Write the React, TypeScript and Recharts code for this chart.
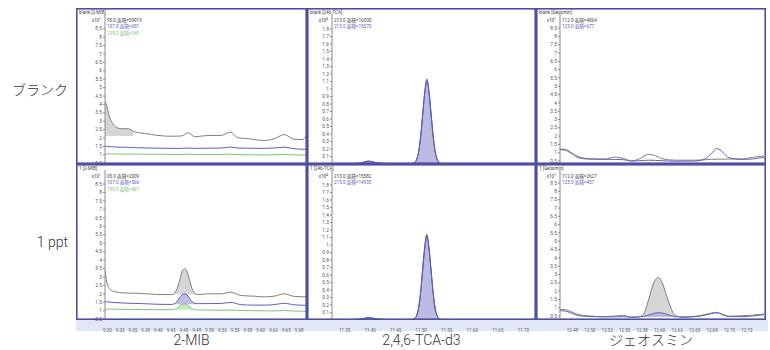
import React from 'react';
import { ComposedChart, Line, Area, XAxis, YAxis } from 'recharts';

// ---------- labels ----------
const rowLabels = ['ブランク', '1 ppt'];
const compoundLabels = ['2-MIB', '2,4,6-TCA-d3', 'ジェオスミン'];
const mibTitles = ['blank [2-MIB]', '1 [2-MIB]'];
const tcaTitles = ['blank [246-TCA]', '1 [246-TCA]'];
const geoTitles = ['blank [Geosmin]', '1 [Geosmin]'];
const mibLegendBlank = ['95.0 面積=59019', '107.0 面積=651', '135.0 面積=340'];
const mibLegend1ppt = ['95.0 面積=2009', '107.0 面積=566', '135.0 面積=461'];
const tcaLegendBlank = ['213.0 面積=16000', '215.0 面積=15570'];
const tcaLegend1ppt = ['213.0 面積=15582', '215.0 面積=14935'];
const geoLegendBlank = ['112.0 面積=4064', '125.0 面積=677'];
const geoLegend1ppt = ['112.0 面積=2627', '125.0 面積=457'];
const mibExp = '1';
const tcaExp = '4';
const geoExp = '1';

// ---------- axes ----------
const mibXTicks = [9.3, 9.325, 9.35, 9.375, 9.4, 9.425, 9.45, 9.475, 9.5, 9.525, 9.55, 9.575, 9.6, 9.625, 9.65, 9.675];
const mibXLabels = ['9.30', '9.33', '9.35', '9.38', '9.40', '9.43', '9.45', '9.48', '9.50', '9.53', '9.55', '9.58', '9.60', '9.63', '9.65', '9.68'];
const tcaXTicks = [11.35, 11.4, 11.45, 11.5, 11.55, 11.6, 11.65, 11.7];
const tcaXLabels = ['11.35', '11.40', '11.45', '11.50', '11.55', '11.60', '11.65', '11.70'];
const geoXTicks = [12.475, 12.5, 12.525, 12.55, 12.575, 12.6, 12.625, 12.65, 12.675, 12.7, 12.725];
const geoXLabels = ['12.48', '12.50', '12.53', '12.55', '12.58', '12.60', '12.63', '12.65', '12.68', '12.70', '12.73'];
const mibXDomain: [number, number] = [9.2955, 9.6885];
const tcaXDomain: [number, number] = [11.3252, 11.7229];
const geoXDomain: [number, number] = [12.4573, 12.7494];
const halfYTicks = [0.5, 1, 1.5, 2, 2.5, 3, 3.5, 4, 4.5, 5, 5.5, 6, 6.5, 7, 7.5, 8, 8.5];
const tenthYTicks = [0.1, 0.2, 0.3, 0.4, 0.5, 0.6, 0.7, 0.8, 0.9, 1, 1.1, 1.2, 1.3, 1.4, 1.5, 1.6, 1.7, 1.8];

// ---------- 2-MIB ----------
const mibBlankTimes = [9.2955, 9.299, 9.302, 9.307, 9.312, 9.318, 9.328, 9.341, 9.351, 9.357, 9.373, 9.399, 9.425, 9.445, 9.458, 9.471, 9.497, 9.522, 9.541, 9.555, 9.574, 9.607, 9.626, 9.646, 9.665, 9.681, 9.6885];
const mibBlank95 = [4.2, 3.9, 3.5, 3.05, 2.8, 2.62, 2.55, 2.55, 2.4, 2.33, 2.27, 2.15, 2.1, 2.12, 2.3, 2.07, 2.15, 2.15, 2.35, 2.02, 1.96, 1.85, 1.95, 2.2, 1.92, 1.9, 2.1];
const mibBlank107 = [1.52, 1.5, 1.49, 1.48, 1.47, 1.46, 1.45, 1.44, 1.43, 1.42, 1.41, 1.39, 1.38, 1.38, 1.4, 1.38, 1.39, 1.4, 1.46, 1.4, 1.39, 1.38, 1.4, 1.45, 1.36, 1.33, 1.33];
const mibBlank135 = [1.06, 1.06, 1.05, 1.05, 1.05, 1.05, 1.04, 1.04, 1.04, 1.04, 1.03, 1.03, 1.02, 1.02, 1.03, 1.02, 1.02, 1.02, 1.04, 1.01, 1.0, 0.99, 1.0, 1.02, 0.99, 0.98, 0.98];
const mibBlankPeak = { from: 9.2955, to: 9.351, base: 2.12 };

const mib1pptTimes = [9.2955, 9.299, 9.305, 9.315, 9.334, 9.367, 9.399, 9.425, 9.428, 9.435, 9.441, 9.446, 9.451, 9.456, 9.461, 9.467, 9.474, 9.48, 9.497, 9.522, 9.542, 9.561, 9.587, 9.607, 9.626, 9.646, 9.665, 9.6885];
const mib1ppt95 = [3.42, 2.7, 2.28, 2.12, 2.05, 2.02, 1.96, 1.95, 1.97, 2.2, 2.75, 3.3, 3.5, 3.3, 2.8, 2.2, 1.98, 1.96, 2.0, 2.0, 2.1, 1.9, 1.86, 1.82, 1.86, 2.0, 1.85, 1.82];
const mib1ppt107 = [1.55, 1.53, 1.51, 1.48, 1.45, 1.42, 1.38, 1.37, 1.38, 1.5, 1.75, 1.93, 2.0, 1.93, 1.72, 1.5, 1.42, 1.42, 1.42, 1.43, 1.49, 1.36, 1.33, 1.33, 1.36, 1.44, 1.35, 1.32];
const mib1ppt135 = [1.1, 1.1, 1.09, 1.09, 1.08, 1.07, 1.06, 1.06, 1.06, 1.12, 1.28, 1.38, 1.41, 1.37, 1.25, 1.1, 1.05, 1.04, 1.04, 1.03, 1.04, 1.01, 1.0, 0.99, 0.99, 1.01, 0.98, 0.97];
const mib1pptPeak = { from: 9.428, to: 9.474 };
const mib1pptBases = [1.96, 1.38, 1.05];

// ---------- 2,4,6-TCA-d3 ----------
const tcaTimes = [11.3252, 11.36, 11.377, 11.39, 11.397, 11.405, 11.42, 11.45, 11.48, 11.487, 11.491, 11.495, 11.499, 11.503, 11.507, 11.511, 11.515, 11.519, 11.523, 11.527, 11.531, 11.535, 11.54, 11.56, 11.6, 11.65, 11.7, 11.7229];
const tcaBlank213 = [0.005, 0.005, 0.01, 0.03, 0.04, 0.03, 0.01, 0.005, 0.005, 0.02, 0.06, 0.17, 0.38, 0.68, 0.97, 1.13, 0.98, 0.7, 0.4, 0.18, 0.07, 0.02, 0.005, 0.005, 0.005, 0.005, 0.005, 0.005];
const tcaBlank215 = [0.005, 0.005, 0.01, 0.025, 0.035, 0.025, 0.01, 0.005, 0.005, 0.02, 0.06, 0.16, 0.37, 0.66, 0.95, 1.1, 0.96, 0.68, 0.39, 0.17, 0.06, 0.02, 0.005, 0.005, 0.005, 0.005, 0.005, 0.005];
const tca1ppt213 = [0.005, 0.005, 0.01, 0.025, 0.035, 0.025, 0.01, 0.005, 0.005, 0.02, 0.06, 0.17, 0.39, 0.7, 0.99, 1.14, 0.98, 0.69, 0.39, 0.17, 0.06, 0.02, 0.005, 0.005, 0.005, 0.005, 0.005, 0.005];
const tca1ppt215 = [0.005, 0.005, 0.01, 0.02, 0.03, 0.02, 0.01, 0.005, 0.005, 0.02, 0.06, 0.16, 0.37, 0.67, 0.96, 1.11, 0.96, 0.67, 0.38, 0.16, 0.06, 0.02, 0.005, 0.005, 0.005, 0.005, 0.005, 0.005];

// ---------- Geosmin ----------
const geoBlankTimes = [12.4573, 12.465, 12.472, 12.484, 12.498, 12.522, 12.536, 12.548, 12.56, 12.572, 12.584, 12.594, 12.603, 12.623, 12.651, 12.666, 12.674, 12.682, 12.691, 12.699, 12.718, 12.733, 12.738, 12.7494];
const geoBlank112 = [1.22, 1.2, 1.05, 0.68, 0.62, 0.62, 0.74, 0.66, 0.5, 0.65, 0.9, 0.82, 0.64, 0.55, 0.55, 0.58, 0.6, 0.61, 0.61, 0.62, 0.62, 0.72, 0.75, 0.8];
const geoBlank125 = [1.18, 1.15, 1.0, 0.76, 0.63, 0.6, 0.6, 0.58, 0.5, 0.52, 0.55, 0.54, 0.52, 0.49, 0.5, 0.65, 0.95, 1.25, 1.0, 0.7, 0.6, 0.62, 0.65, 0.72];

const geo1pptTimes = [12.4573, 12.465, 12.472, 12.484, 12.498, 12.522, 12.536, 12.548, 12.56, 12.57, 12.577, 12.584, 12.591, 12.598, 12.603, 12.6105, 12.616, 12.62, 12.625, 12.632, 12.651, 12.666, 12.675, 12.682, 12.69, 12.699, 12.718, 12.733, 12.7494];
const geo1ppt112 = [0.9, 0.88, 0.78, 0.58, 0.5, 0.46, 0.5, 0.54, 0.44, 0.45, 0.62, 1.45, 2.45, 2.82, 2.56, 1.65, 1.0, 0.64, 0.5, 0.45, 0.48, 0.6, 0.68, 0.72, 0.58, 0.48, 0.52, 0.55, 0.62];
const geo1ppt125 = [0.82, 0.8, 0.7, 0.52, 0.48, 0.45, 0.45, 0.46, 0.42, 0.44, 0.48, 0.56, 0.65, 0.7, 0.68, 0.6, 0.52, 0.48, 0.45, 0.42, 0.46, 0.56, 0.66, 0.69, 0.6, 0.48, 0.46, 0.5, 0.58];
const geo1pptPeak = { from: 12.57, to: 12.625 };
const geo1pptBases = [0.45, 0.44];

// ---------- styling ----------
const FONT = "Roboto, 'Noto Sans CJK JP', 'DejaVu Sans', sans-serif";
const BROWN = '#8e7b6d';
const BLUE = '#5e5ec6';
const GREEN = '#7cc27c';
const DARK = '#4a4a68';
const GRAYFILL = '#cfcfcf';
const LAVFILL = '#b3b3df';
const GREENFILL = '#bfe3bf';
const BORDER = '#5050a2';

type Fill = { from: number; to: number; base: number; color: string; opacity: number };
type Series = { values: number[]; color: string; fill?: Fill };

type PanelProps = {
  left: number; top: number; width: number; height: number;
  yAxisW: number; right: number; showX: boolean;
  times: number[]; series: Series[];
  xDomain: [number, number]; yDomain: [number, number];
  xTicks: number[]; xLabels: string[]; yTicks: number[];
};

function Panel(p: PanelProps) {
  const data = p.times.map((t, i) => {
    const row: Record<string, any> = { t };
    p.series.forEach((s, j) => {
      row['s' + j] = s.values[i];
      if (s.fill) {
        const f = s.fill;
        row['f' + j] = t >= f.from - 1e-6 && t <= f.to + 1e-6 ? [f.base, s.values[i]] : null;
      }
    });
    return row;
  });
  return (
    <div style={{ position: 'absolute', left: p.left, top: p.top, width: p.width, height: p.height }}>
      <ComposedChart width={p.width} height={p.height} data={data} margin={{ top: 6, right: p.right, bottom: 0, left: 0 }} style={{ fontFamily: FONT }}>
        <XAxis
          type="number" dataKey="t" domain={p.xDomain} allowDataOverflow ticks={p.xTicks} interval={0}
          hide={!p.showX} height={p.showX ? 13 : 0}
          tickFormatter={(v: number) => { const k = p.xTicks.findIndex((x) => Math.abs(x - v) < 1e-9); return k >= 0 ? p.xLabels[k] : ''; }}
          tick={{ fontSize: 4.5, fill: '#666' }} tickLine={false} axisLine={false} tickMargin={3}
        />
        <YAxis
          type="number" domain={p.yDomain} allowDataOverflow ticks={p.yTicks} interval={0} width={p.yAxisW}
          tickFormatter={(v: number) => String(Math.round(v * 10) / 10)}
          tick={{ fontSize: 4.8, fill: '#555' }} tickSize={2} tickMargin={1}
          axisLine={{ stroke: '#8a8a8a' }} tickLine={{ stroke: '#8a8a8a' }}
        />
        {p.series.map((s, j) => s.fill ? (
          <Area key={'f' + j} type="monotone" dataKey={'f' + j} stroke="none" fill={s.fill.color} fillOpacity={s.fill.opacity}
            isAnimationActive={false} dot={false} activeDot={false} />
        ) : null)}
        {p.series.map((s, j) => (
          <Line key={'s' + j} type="monotone" dataKey={'s' + j} stroke={s.color} strokeWidth={1}
            dot={false} activeDot={false} isAnimationActive={false} />
        ))}
      </ComposedChart>
    </div>
  );
}

const cols = [
  { x: 76, w: 231, yAxisW: 29, right: 1 },
  { x: 307, w: 229, yAxisW: 25, right: 1 },
  { x: 536, w: 230, yAxisW: 24, right: 2 },
];
const rowTops = [8, 164];
const PH = 156;

export default function App() {
  const panels = [
    // row 0
    {
      r: 0, c: 0, title: mibTitles[0], exp: mibExp, legend: mibLegendBlank, legendColors: ['#444', BLUE, GREEN],
      times: mibBlankTimes, xDomain: mibXDomain, yDomain: [0.45, 9.38] as [number, number], xTicks: mibXTicks, xLabels: mibXLabels, yTicks: halfYTicks,
      series: [
        { values: mibBlank95, color: BROWN, fill: { ...mibBlankPeak, color: GRAYFILL, opacity: 0.85 } },
        { values: mibBlank107, color: BLUE },
        { values: mibBlank135, color: GREEN },
      ],
    },
    {
      r: 0, c: 1, title: tcaTitles[0], exp: tcaExp, legend: tcaLegendBlank, legendColors: ['#444', BLUE],
      times: tcaTimes, xDomain: tcaXDomain, yDomain: [0, 2.0] as [number, number], xTicks: tcaXTicks, xLabels: tcaXLabels, yTicks: tenthYTicks,
      series: [
        { values: tcaBlank213, color: DARK, fill: { from: tcaTimes[0], to: tcaTimes[tcaTimes.length - 1], base: 0, color: LAVFILL, opacity: 0.9 } },
        { values: tcaBlank215, color: BLUE },
      ],
    },
    {
      r: 0, c: 2, title: geoTitles[0], exp: geoExp, legend: geoLegendBlank, legendColors: ['#444', BLUE],
      times: geoBlankTimes, xDomain: geoXDomain, yDomain: [0.32, 9.35] as [number, number], xTicks: geoXTicks, xLabels: geoXLabels, yTicks: halfYTicks,
      series: [
        { values: geoBlank112, color: BROWN },
        { values: geoBlank125, color: BLUE },
      ],
    },
    // row 1
    {
      r: 1, c: 0, title: mibTitles[1], exp: mibExp, legend: mibLegend1ppt, legendColors: ['#444', BLUE, GREEN],
      times: mib1pptTimes, xDomain: mibXDomain, yDomain: [0.45, 9.33] as [number, number], xTicks: mibXTicks, xLabels: mibXLabels, yTicks: halfYTicks,
      series: [
        { values: mib1ppt95, color: BROWN, fill: { ...mib1pptPeak, base: mib1pptBases[0], color: GRAYFILL, opacity: 0.85 } },
        { values: mib1ppt107, color: BLUE, fill: { ...mib1pptPeak, base: mib1pptBases[1], color: LAVFILL, opacity: 0.85 } },
        { values: mib1ppt135, color: GREEN, fill: { ...mib1pptPeak, base: mib1pptBases[2], color: GREENFILL, opacity: 0.9 } },
      ],
    },
    {
      r: 1, c: 1, title: tcaTitles[1], exp: tcaExp, legend: tcaLegend1ppt, legendColors: ['#444', BLUE],
      times: tcaTimes, xDomain: tcaXDomain, yDomain: [0, 2.0] as [number, number], xTicks: tcaXTicks, xLabels: tcaXLabels, yTicks: tenthYTicks,
      series: [
        { values: tca1ppt213, color: DARK, fill: { from: tcaTimes[0], to: tcaTimes[tcaTimes.length - 1], base: 0, color: LAVFILL, opacity: 0.9 } },
        { values: tca1ppt215, color: BLUE },
      ],
    },
    {
      r: 1, c: 2, title: geoTitles[1], exp: geoExp, legend: geoLegend1ppt, legendColors: ['#444', BLUE],
      times: geo1pptTimes, xDomain: geoXDomain, yDomain: [0.26, 9.29] as [number, number], xTicks: geoXTicks, xLabels: geoXLabels, yTicks: halfYTicks,
      series: [
        { values: geo1ppt112, color: BROWN, fill: { ...geo1pptPeak, base: geo1pptBases[0], color: GRAYFILL, opacity: 0.85 } },
        { values: geo1ppt125, color: BLUE, fill: { ...geo1pptPeak, base: geo1pptBases[1], color: LAVFILL, opacity: 0.85 } },
      ],
    },
  ];

  return (
    <div style={{ position: 'absolute', left: 0, top: 0, width: 770, height: 350, background: '#fff', overflow: 'hidden', fontFamily: FONT }}>
      <div style={{ position: 'absolute', left: 76, top: 320, width: 692, height: 11, background: '#dfe8f4' }} />
      {panels.map((pn, k) => {
        const col = cols[pn.c];
        const top = rowTops[pn.r];
        const showX = pn.r === 1;
        return (
          <Panel key={k} left={col.x} top={top} width={col.w} height={showX ? PH + 13 : PH}
            yAxisW={col.yAxisW} right={col.right} showX={showX}
            times={pn.times} series={pn.series} xDomain={pn.xDomain} yDomain={pn.yDomain}
            xTicks={pn.xTicks} xLabels={pn.xLabels} yTicks={pn.yTicks} />
        );
      })}
      <svg width={770} height={350} style={{ position: 'absolute', left: 0, top: 0, pointerEvents: 'none' }} fontFamily={FONT}>
        {panels.map((pn, k) => {
          const col = cols[pn.c];
          const top = rowTops[pn.r];
          const plotL = col.x + col.yAxisW;
          return (
            <g key={k}>
              <rect x={col.x + 0.8} y={top + 0.8} width={col.w - 1.6} height={PH - 1.6} fill="none" stroke={BORDER} strokeWidth={1.6} />
              <text x={col.x + 3} y={top + 6} fontSize={4.6} fill="#444">{pn.title}</text>
              <text x={plotL - 4} y={top + 13.5} fontSize={4.6} fill="#444" textAnchor="end">
                x10<tspan fontSize={3.4} dy={-1.8}>{pn.exp}</tspan>
              </text>
              {pn.legend.map((l, i) => (
                <text key={i} x={plotL + 2} y={top + 13.7 + i * 6.5} fontSize={4.6} fill={pn.legendColors[i]}>{l}</text>
              ))}
            </g>
          );
        })}
        {rowLabels.map((l, i) => (
          <text key={'r' + i} x={68} y={i === 0 ? 95 : 247} textAnchor="end" fontSize={14} fill="#333" fontWeight={300}>{l}</text>
        ))}
        {compoundLabels.map((l, i) => (
          <text key={'c' + i} x={cols[i].x + cols[i].w / 2} y={345} textAnchor="middle" fontSize={14} fill="#333" fontWeight={300}>{l}</text>
        ))}
      </svg>
    </div>
  );
}
